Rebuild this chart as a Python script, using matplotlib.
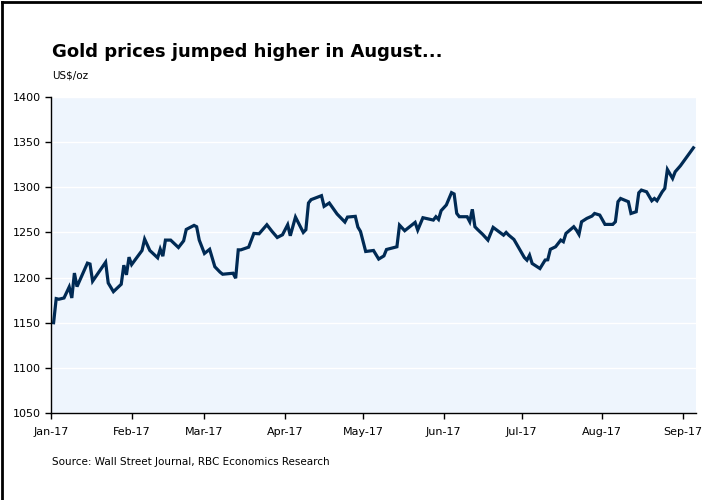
import matplotlib
matplotlib.use("Agg")
import matplotlib.pyplot as plt
import matplotlib.dates as mdates
from matplotlib.lines import Line2D
import numpy as np

# Gold price, US$/oz, 2017 (approximate daily closes)
dates = [
    "2017-01-02", "2017-01-03", "2017-01-04", "2017-01-06", "2017-01-08", "2017-01-09",
    "2017-01-10", "2017-01-11", "2017-01-15", "2017-01-16", "2017-01-17", "2017-01-22",
    "2017-01-23", "2017-01-25", "2017-01-28", "2017-01-29", "2017-01-30", "2017-01-31",
    "2017-02-01", "2017-02-05", "2017-02-06", "2017-02-08", "2017-02-11", "2017-02-12",
    "2017-02-13", "2017-02-14", "2017-02-16", "2017-02-19", "2017-02-21", "2017-02-22",
    "2017-02-25", "2017-02-26", "2017-02-27", "2017-03-01", "2017-03-03", "2017-03-05",
    "2017-03-07", "2017-03-08", "2017-03-12", "2017-03-13", "2017-03-14", "2017-03-15",
    "2017-03-18", "2017-03-20", "2017-03-22", "2017-03-25", "2017-03-27", "2017-03-29",
    "2017-03-31", "2017-04-02", "2017-04-03", "2017-04-05", "2017-04-08", "2017-04-09",
    "2017-04-10", "2017-04-11", "2017-04-15", "2017-04-16", "2017-04-18", "2017-04-21",
    "2017-04-24", "2017-04-25", "2017-04-28", "2017-04-29", "2017-04-30", "2017-05-02",
    "2017-05-05", "2017-05-07", "2017-05-09", "2017-05-10", "2017-05-14", "2017-05-15",
    "2017-05-17", "2017-05-21", "2017-05-22", "2017-05-24", "2017-05-28", "2017-05-29",
    "2017-05-30", "2017-05-31", "2017-06-02", "2017-06-04", "2017-06-05", "2017-06-06",
    "2017-06-07", "2017-06-10", "2017-06-11", "2017-06-12", "2017-06-13", "2017-06-14",
    "2017-06-16", "2017-06-18", "2017-06-20", "2017-06-24", "2017-06-25", "2017-06-26",
    "2017-06-28", "2017-07-02", "2017-07-03", "2017-07-04", "2017-07-05", "2017-07-08",
    "2017-07-10", "2017-07-11", "2017-07-12", "2017-07-14", "2017-07-16", "2017-07-17",
    "2017-07-18", "2017-07-21", "2017-07-22", "2017-07-23", "2017-07-24", "2017-07-26",
    "2017-07-28", "2017-07-29", "2017-07-31", "2017-08-02", "2017-08-05", "2017-08-06",
    "2017-08-07", "2017-08-08", "2017-08-11", "2017-08-12", "2017-08-14", "2017-08-15",
    "2017-08-16", "2017-08-18", "2017-08-20", "2017-08-21", "2017-08-22", "2017-08-24",
    "2017-08-25", "2017-08-26", "2017-08-28", "2017-08-29", "2017-08-31", "2017-09-05",
]
prices = [
    1150.0, 1176.7, 1176.0, 1177.4, 1189.6, 1177.4,
    1205.0, 1190.0, 1216.0, 1215.0, 1196.0, 1217.0,
    1194.0, 1184.4, 1192.6, 1213.7, 1203.0, 1222.6,
    1214.4, 1230.0, 1242.6, 1230.0, 1221.9, 1231.5,
    1223.7, 1241.5, 1241.5, 1233.3, 1240.7, 1253.3,
    1257.8, 1256.3, 1241.5, 1226.7, 1231.3, 1212.0,
    1206.0, 1203.7, 1204.8, 1199.3, 1230.7, 1230.7,
    1233.7, 1248.9, 1248.5, 1258.5, 1251.1, 1244.4,
    1247.4, 1258.5, 1246.3, 1267.0, 1250.0, 1253.0,
    1282.6, 1286.3, 1290.7, 1278.9, 1282.6, 1270.4,
    1261.5, 1267.0, 1267.8, 1255.9, 1251.1, 1228.9,
    1230.0, 1220.5, 1224.0, 1231.1, 1234.1, 1258.1,
    1251.9, 1261.1, 1252.6, 1266.3, 1263.7, 1267.4,
    1264.4, 1274.1, 1280.4, 1294.1, 1292.6, 1271.1,
    1267.4, 1267.4, 1261.9, 1275.6, 1256.3, 1253.3,
    1247.8, 1241.5, 1255.6, 1247.0, 1250.0, 1247.0,
    1242.2, 1222.2, 1219.3, 1224.8, 1215.6, 1210.0,
    1219.4, 1219.7, 1231.3, 1234.1, 1241.5, 1239.7,
    1248.9, 1256.3, 1252.6, 1247.8, 1261.8, 1265.5,
    1268.1, 1271.0, 1269.2, 1258.9, 1258.9, 1261.8,
    1284.0, 1287.6, 1284.0, 1271.0, 1272.9, 1293.9,
    1296.9, 1295.0, 1285.1, 1287.6, 1285.1, 1295.0,
    1298.7, 1319.7, 1309.8, 1317.2, 1323.8, 1343.7,
]
y_ticks = [1050, 1100, 1150, 1200, 1250, 1300, 1350, 1400]

x = np.array(dates, dtype="datetime64[D]")
y = np.array(prices)

fig = plt.figure(figsize=(7.02, 5.0), dpi=100)
ax = fig.add_axes([51 / 702, 1 - 413 / 500, 645 / 702, 316 / 500])
ax.set_facecolor("#eef5fd")

ax.plot(x, y, color="#002a54", linewidth=2.3, solid_joinstyle="miter")

ax.set_ylim(1050, 1400)
ax.set_yticks(y_ticks)
ax.set_xlim(np.datetime64("2017-01-01"), np.datetime64("2017-09-06"))
ax.xaxis.set_major_locator(mdates.MonthLocator())
ax.xaxis.set_major_formatter(mdates.DateFormatter("%b-%y"))

# white horizontal gridlines on the blue background
ax.grid(axis="y", color="white", linewidth=1.0)
ax.set_axisbelow(True)

for side in ["top", "right"]:
    ax.spines[side].set_visible(False)
ax.spines["left"].set_color("black")
ax.spines["bottom"].set_color("black")
ax.spines["left"].set_linewidth(1.0)
ax.spines["bottom"].set_linewidth(1.0)
ax.tick_params(axis="both", direction="out", length=4, width=1, labelsize=8, colors="black")
ax.tick_params(axis="x", pad=6)

fig.text(52 / 702, 1 - 52 / 500, "Gold prices jumped higher in August...",
         fontsize=13, fontweight="bold", va="center", ha="left")
fig.text(52 / 702, 1 - 76 / 500, "US$/oz", fontsize=7.5, va="center", ha="left")
fig.text(52 / 702, 1 - 462 / 500, "Source: Wall Street Journal, RBC Economics Research",
         fontsize=7.5, va="center", ha="left")

# frame along the top and left edges of the figure
fig.add_artist(Line2D([0.003, 1.0], [0.997, 0.997], color="black", linewidth=2.0,
                      transform=fig.transFigure))
fig.add_artist(Line2D([0.003, 0.003], [0.0, 0.997], color="black", linewidth=2.0,
                      transform=fig.transFigure))

fig.savefig("out.png", dpi=100)
